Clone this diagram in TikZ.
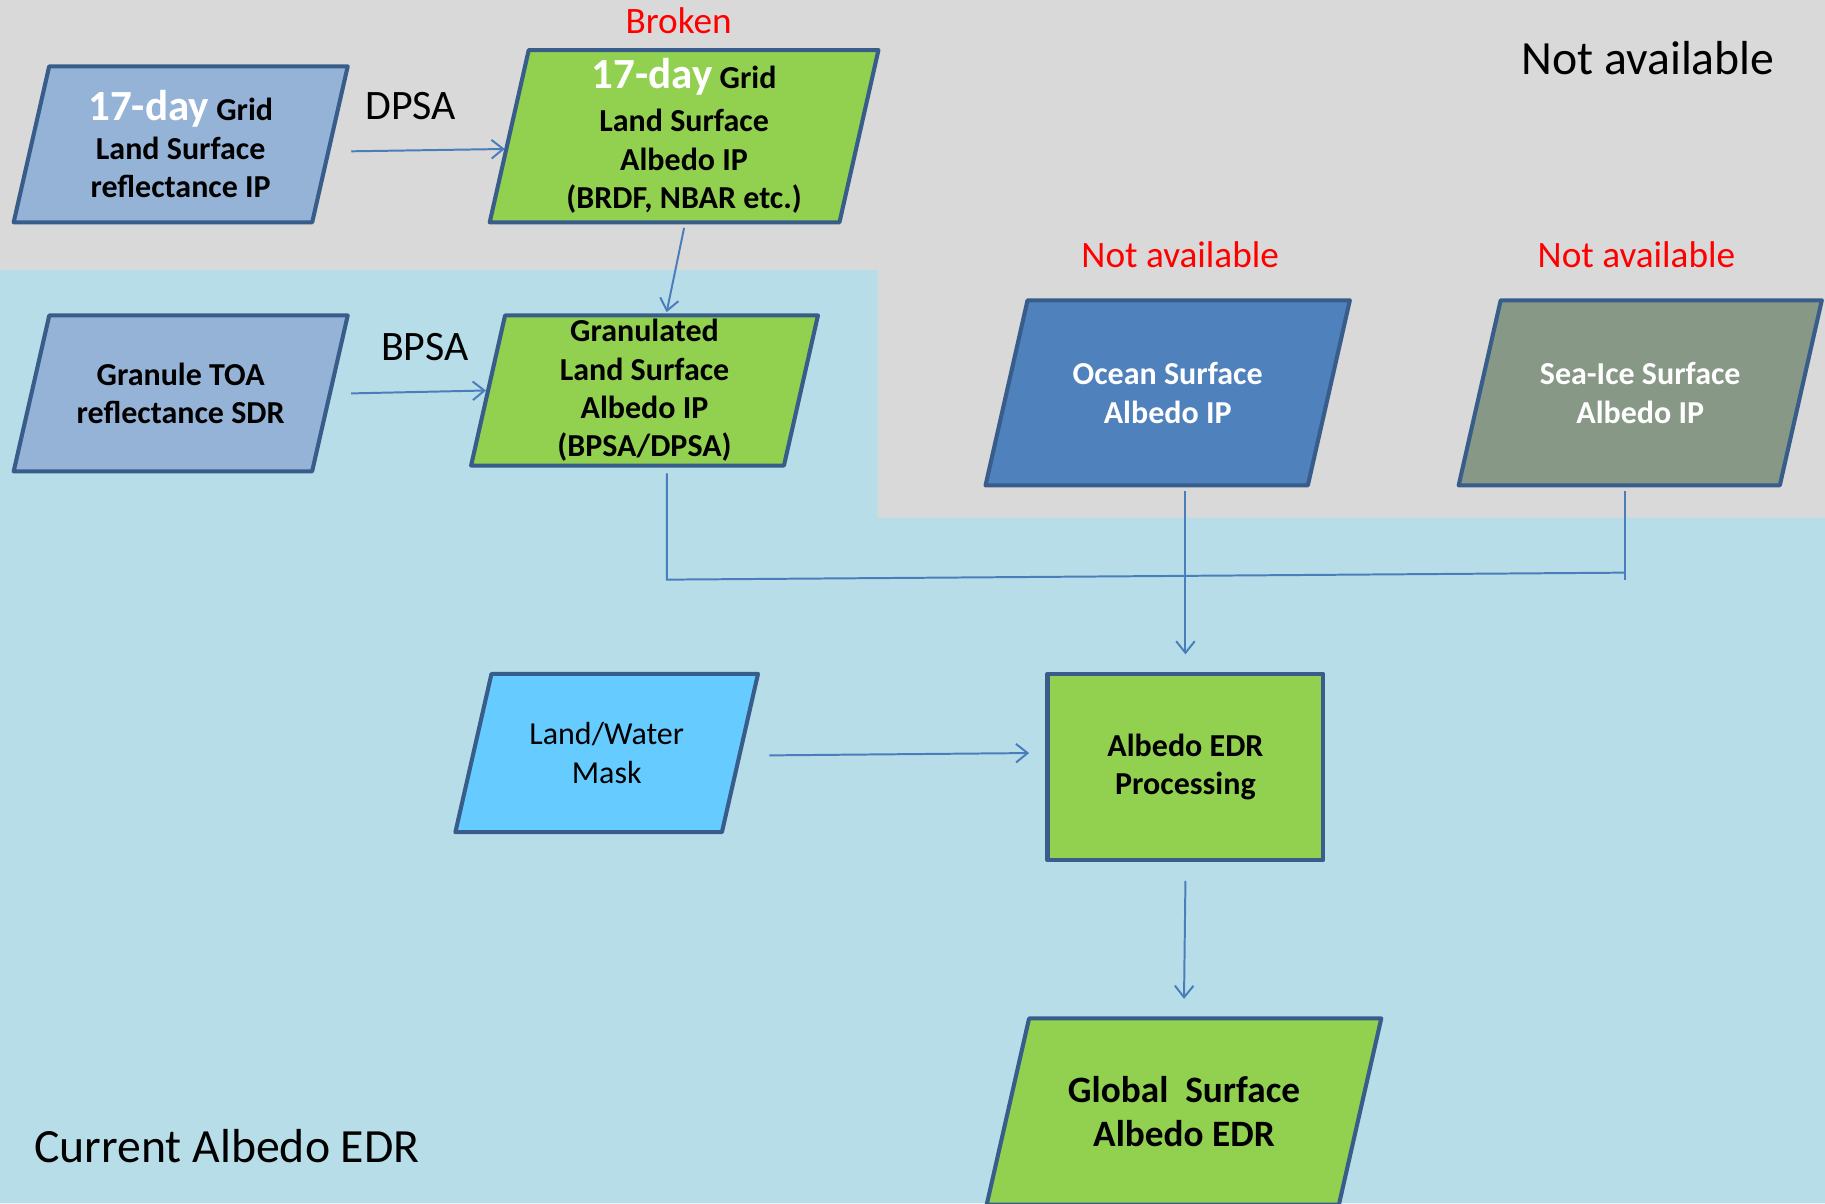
\documentclass[tikz,border=0pt]{standalone}
\usepackage{fontspec}
\setmainfont{Carlito}
\usetikzlibrary{shapes.geometric,arrows.meta}

\definecolor{bggray}{HTML}{D9D9D9}
\definecolor{bgblue}{HTML}{B7DEE8}
\definecolor{edge}{HTML}{385D8A}
\definecolor{wire}{HTML}{4A7EBB}
\definecolor{slate}{HTML}{95B3D7}
\definecolor{leaf}{HTML}{92D050}
\definecolor{ocean}{HTML}{4F81BD}
\definecolor{seaice}{HTML}{879887}
\definecolor{sky}{HTML}{66CCFF}

\begin{document}
\begin{tikzpicture}[x=1pt,y=-1pt,
    io/.style={trapezium, trapezium left angle=77, trapezium right angle=103,
      trapezium stretches body, draw=edge, line width=3.5pt, line join=round, align=center,
      font=\bfseries\fontsize{27.5}{33}\selectfont},
    proc/.style={rectangle, draw=edge, line width=3.5pt, line join=round, align=center,
      font=\bfseries\fontsize{27.5}{33}\selectfont},
    link/.style={draw=wire, line width=1.7pt},
    flow/.style={link, -{Straight Barb[length=10pt,width=16pt,line width=1.7pt]}},
    big/.style={font=\fontsize{41}{45}\selectfont},
    warn/.style={text=red, font=\fontsize{32}{36}\selectfont}]
  \tikzstyle{every node}+=[inner sep=0pt]
  \useasboundingbox (0,0) rectangle (1568,1034);
  \clip (0,0) rectangle (1568,1034);
  % backgrounds
  \fill [bggray] (0,0) rectangle (1568,1034);
  \fill [bgblue] (0,232) -- (754,232) -- (754,445) -- (1568,445) -- (1568,1034) -- (0,1034) -- cycle;

  % inputs
  \node [io, fill=slate, inner ysep=20pt, minimum width=287pt, minimum height=134pt] (gridrefl) at (155.25,124)
    {{\fontsize{37}{40}\selectfont\color{white}17-day} Grid\\Land Surface\\reflectance IP};
  \node [io, fill=leaf, inner ysep=6pt, minimum width=334pt, minimum height=148pt] (gridalb) at (587.75,117)
    {{\fontsize{37}{40}\selectfont\color{white}17-day} Grid\\[4pt]Land Surface\\Albedo IP\\(BRDF, NBAR etc.)};
  \node [io, fill=slate, inner ysep=40pt, minimum width=287pt, minimum height=134pt] (toa) at (155.25,338)
    {Granule TOA\\reflectance SDR};
  \node [io, fill=leaf, inner ysep=2pt, minimum width=298pt, minimum height=129pt] (granalb) at (553.75,335.5)
    {Granulated\\Land Surface\\Albedo IP\\(BPSA/DPSA)};
  \node [io, fill=ocean, text=white, inner ysep=52pt, minimum width=313pt, minimum height=159pt] (oceanalb) at (1003.25,337.5)
    {Ocean Surface\\Albedo IP};
  \node [io, fill=seaice, text=white, inner ysep=52pt, minimum width=312pt, minimum height=159pt] (icealb) at (1409.25,337.5)
    {Sea-Ice Surface\\Albedo IP};
  \node [io, fill=sky, font=\fontsize{27.5}{33}\selectfont, inner ysep=41pt, minimum width=260pt, minimum height=136pt] (mask) at (521.25,647)
    {Land/Water\\Mask};

  % processing and output
  \node [proc, fill=leaf, minimum width=237pt, minimum height=160pt] (edrproc) at (1018.5,659)
    {Albedo EDR\\Processing};
  \node [io, fill=leaf, font=\bfseries\fontsize{32}{37}\selectfont, inner ysep=49pt, minimum width=339pt, minimum height=160pt] (globalb) at (1017.25,955)
    {Global~~Surface\\Albedo EDR};

  % labels
  \node [font=\fontsize{36}{40}\selectfont] (dpsa) at (353,91) {DPSA};
  \node [font=\fontsize{36}{40}\selectfont] (bpsa) at (365,298) {BPSA};
  \node [warn] (broken) at (583,18) {Broken};
  \node [warn] (naocean) at (1014,219) {Not available};
  \node [warn] (naice) at (1406,219) {Not available};
  \node [big] (natop) at (1416,50) {Not available};
  \node [big] (title) at (195,985) {Current Albedo EDR};

  % connectors
  \coordinate (busl) at (573,498);
  \coordinate (busr) at (1396,492);
  \draw [flow] ([xshift=16.5pt,yshift=-6pt]gridrefl.east) -- ([xshift=-2pt,yshift=-11pt]gridalb.west);
  \draw [flow] ([xshift=16.5pt]toa.east) -- (granalb.west);
  \draw [flow] ([yshift=-3pt]gridalb.south) -- ([xshift=19pt,yshift=1pt]granalb.north);
  \draw [link] ([yshift=-5pt]granalb.south -| busl) -- (busl) -- (busr);
  \draw [link] ([yshift=-3pt]icealb.south -| busr) -- ([yshift=-6pt]busr);
  \draw [flow] ([yshift=-3pt]oceanalb.south -| edrproc.north) -- ([yshift=15pt]edrproc.north);
  \draw [flow] ([xshift=23.5pt,yshift=-2pt]mask.east) -- ([xshift=-14pt,yshift=12pt]edrproc.west);
  \draw [flow] ([yshift=-16pt]edrproc.south) -- ([yshift=15pt]globalb.north);
\end{tikzpicture}
\end{document}
